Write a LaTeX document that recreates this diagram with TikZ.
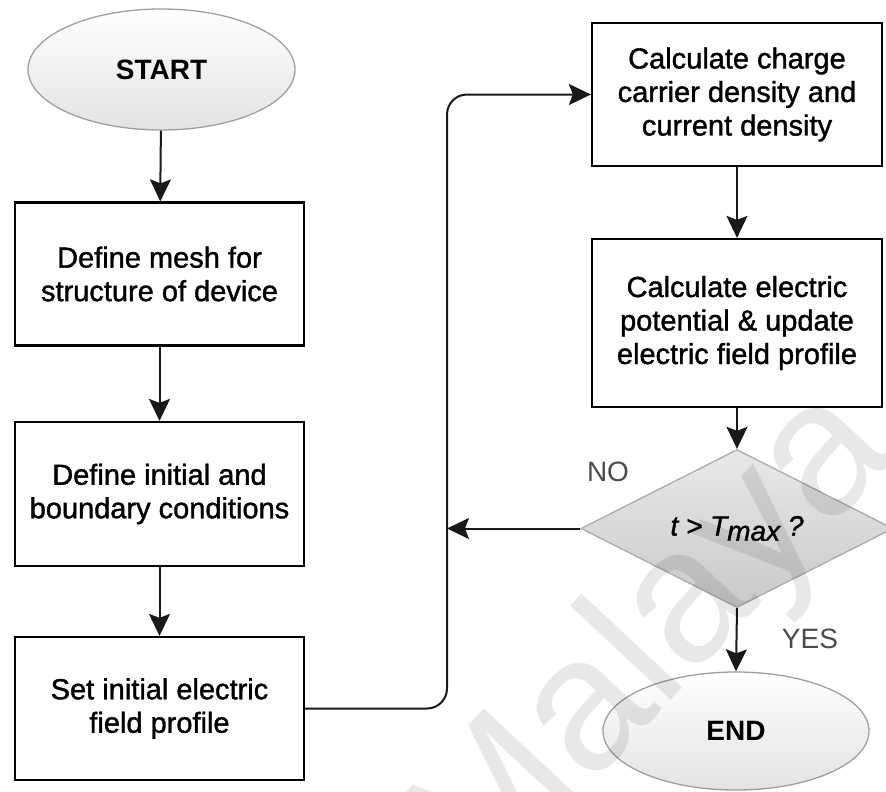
\documentclass[tikz,border=0pt]{standalone}
\usepackage{fontspec}
\setmainfont{Liberation Sans}
\newfontfamily\boxfont[FakeBold=1.3]{Liberation Sans}
\usetikzlibrary{shapes.geometric,arrows.meta}

\tikzset{
  txt/.style={font=\boxfont\fontsize{29}{33.5}\selectfont, align=center},
  procbox/.style={txt, draw=black, line width=2.2pt, fill=white,
    minimum width=289pt, minimum height=143pt, inner sep=0pt},
  terminal/.style={ellipse, draw=gray!75, line width=1.3pt,
    top color=white, bottom color=gray!22,
    font=\fontsize{28}{33}\selectfont\bfseries, inner sep=0pt},
  decision/.style={diamond, draw=gray!65, line width=1.3pt,
    top color=gray!18, bottom color=gray!42, inner sep=0pt,
    font=\boxfont\fontsize{28}{33}\selectfont\itshape},
  conn/.style={line width=2pt, draw=black!90,
    -{Stealth[length=22pt,width=21pt,inset=4pt]}},
  branch/.style={font=\fontsize{28}{33}\selectfont, text=gray!60!black},
}

\begin{document}
\begin{tikzpicture}[x=1pt, y=-1pt]
  \clip (0,0) rectangle (886,792);
  \fill[white] (0,0) rectangle (886,792);

  % left column
  \node[terminal, minimum width=267pt, minimum height=121pt] (start) at (161.5,69.5) {START};
  \node[procbox] (mesh) at (159.5,274) {Define mesh for\\structure of device};
  \node[procbox, minimum height=144pt] (bc) at (159.5,494) {Define initial and\\boundary conditions};
  \node[procbox] (init) at (159.5,708.5) {Set initial electric\\field profile};

  % right column
  \node[procbox, minimum width=290pt] (dens) at (737,94.5)
    {Calculate charge\\carrier density and\\current density};
  \node[procbox, minimum width=290pt, minimum height=168pt] (pot) at (737,323)
    {Calculate electric\\potential \& update\\electric field profile};
  \node[decision, minimum width=312pt, minimum height=139pt] (dec) at (737,528.5)
    {t > T\raisebox{-0.35ex}{max} ?};
  \node[terminal, minimum width=266pt, minimum height=118pt] (stop) at (736,731) {END};

  % vertical bus line of the loop
  \coordinate (busx) at (447,0);

  % connectors
  \draw[conn] (start) -- (mesh);
  \draw[conn] (mesh) -- (bc);
  \draw[conn] (bc) -- (init);
  \draw[conn, rounded corners=20pt] (init.east) -| (dens.west -| busx) -- (dens.west);
  \draw[conn] (dens) -- (pot);
  \draw[conn] (pot) -- (dec);
  \draw[conn] (dec.west) -- (dec.west -| busx);
  \draw[conn] (dec.south) -- (stop.north);

  % branch labels
  \node[branch] (no) at (608,472) {NO};
  \node[branch] (yes) at (810,639) {YES};

  % watermark
  \node[font=\fontsize{190}{190}\selectfont, text opacity=0.09, rotate=47] (wm) at (655,645) {Malaya};
\end{tikzpicture}
\end{document}
